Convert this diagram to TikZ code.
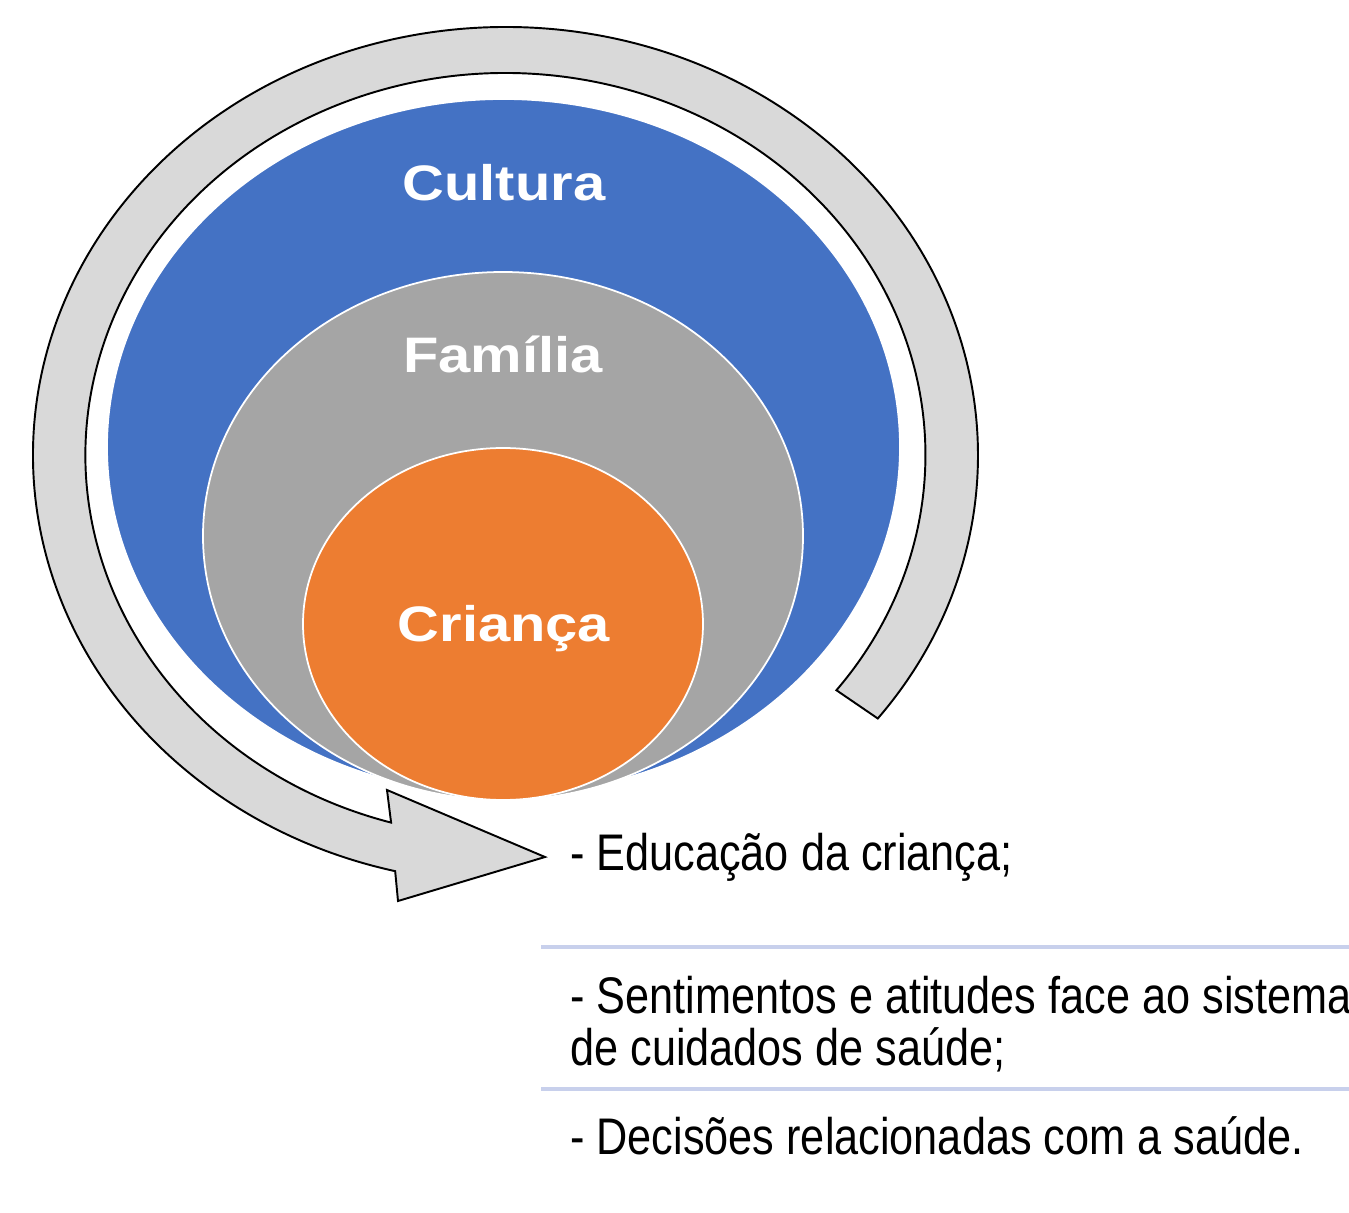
\documentclass[tikz,border=0pt]{standalone}
\usepackage{fontspec}
\newfontfamily\zonefont[FakeStretch=1.16]{Liberation Sans}
\newfontfamily\itemfont[FakeStretch=0.84]{Liberation Sans}
\definecolor{cultura}{HTML}{4472C4}
\definecolor{familia}{HTML}{A5A5A5}
\definecolor{crianca}{HTML}{ED7D31}
\definecolor{ring}{HTML}{D9D9D9}
\definecolor{rule}{HTML}{C8D0EC}

\begin{document}
\begin{tikzpicture}[x=0.02cm,y=-0.02cm,
  zone/.style={fill=#1,draw=white,line width=1pt},
  zonelabel/.style={text=white,anchor=base,inner sep=0pt,font=\zonefont\bfseries\fontsize{28.4}{30}\selectfont},
  itemlabel/.style={anchor=base west,inner sep=0pt,font=\itemfont\fontsize{29.3}{30}\selectfont},
  sep/.style={draw=rule,line width=2pt}]
\useasboundingbox (0,0) rectangle (1349,1213);
\coordinate (outerstart) at (877.8,718.5);
\coordinate (innerend) at (391.1,822.6);
\coordinate (barblow) at (398,901);
\coordinate (tip) at (545,857);
\coordinate (barbup) at (387,790);
\filldraw[fill=ring,draw=black,line width=1.1pt,line join=miter]
  (outerstart) arc[start angle=38,end angle=-256.5,x radius=472.5,y radius=428]
  -- (barblow) -- (tip) -- (barbup) -- (innerend)
  arc[start angle=-254.2,end angle=38,x radius=420,y radius=382] -- cycle;
\path[zone=cultura] (503.5,447) ellipse[x radius=396.5,y radius=348];
\path[zone=familia] (503,536) ellipse[x radius=300,y radius=264];
\path[zone=crianca] (503,624) ellipse[x radius=200,y radius=176];
\node[zonelabel] (cultura) at (504,200.5) {Cultura};
\node[zonelabel] (familia) at (503,372) {Família};
\node[zonelabel] (crianca) at (504,641) {Criança};
\coordinate (sepa) at (541,947);
\coordinate (sepaend) at (1349,947);
\coordinate (sepb) at (541,1089);
\coordinate (sepbend) at (1349,1089);
\draw[sep] (sepa) -- (sepaend);
\draw[sep] (sepb) -- (sepbend);
\node[itemlabel] (educacao) at (570,870) {- Educação da criança;};
\node[itemlabel] (sentimentos) at (570,1013) {- Sentimentos e atitudes face ao sistema};
\node[itemlabel] (cuidados) at (570,1065) {de cuidados de saúde;};
\node[itemlabel] (decisoes) at (570,1154) {- Decisões relacionadas com a saúde.};
\end{tikzpicture}
\end{document}
